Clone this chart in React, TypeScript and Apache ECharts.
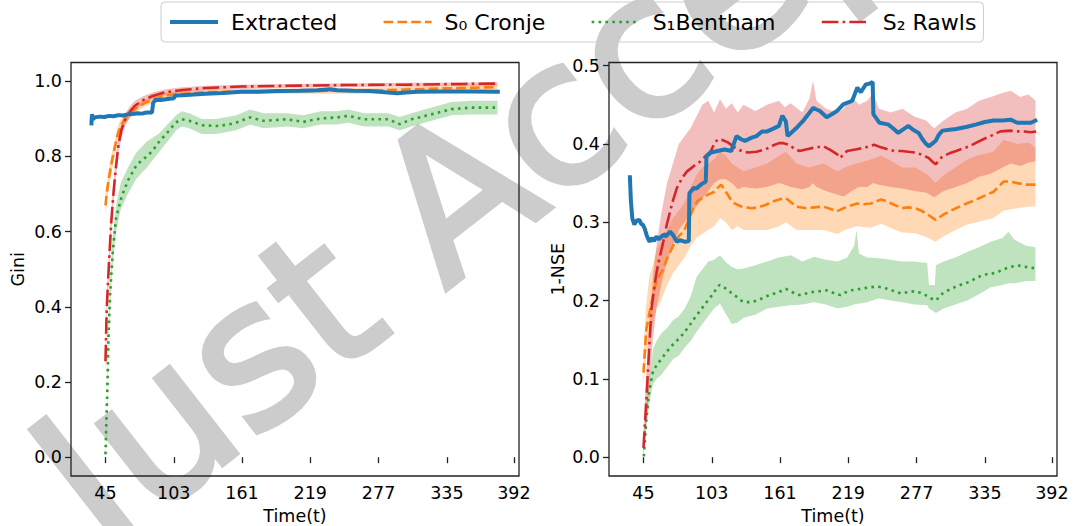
import React, { useEffect, useRef } from 'react';
import * as echarts from 'echarts';

// ---------- tick labels ----------
const timeTicks = [45, 103, 161, 219, 277, 335, 392];
const giniTicks = [0, 0.2, 0.4, 0.6, 0.8, 1.0];
const nseTicks = [0, 0.1, 0.2, 0.3, 0.4, 0.5];

const seriesNames = ['Extracted', 'S₀ Cronje', 'S₁Bentham', 'S₂ Rawls'];

// ---------- Gini (left panel): [t, value] ----------
const giniExtracted = [
  [33, 0.883], [33.5, 0.912], [34.5, 0.9], [36, 0.904], [40, 0.906], [44, 0.905], [48, 0.908], [52, 0.907],
  [56, 0.91], [60, 0.909], [64, 0.912], [68, 0.913], [72, 0.915], [76, 0.914], [80, 0.917], [84.5, 0.917],
  [85.5, 0.943], [87.5, 0.95], [92, 0.95], [98, 0.953], [103, 0.955], [104.5, 0.962], [110, 0.963], [120, 0.965],
  [130, 0.967], [145, 0.969], [160, 0.972], [175, 0.972], [190, 0.974], [210, 0.975], [225, 0.976], [236, 0.979],
  [242, 0.976], [255, 0.975], [270, 0.974], [285, 0.97], [293, 0.968], [300, 0.97], [310, 0.972], [330, 0.973],
  [355, 0.973], [380, 0.972],
];
const giniCronje = [
  [45, 0.67], [46, 0.7], [47.5, 0.735], [50, 0.78], [52, 0.81], [54, 0.84], [56, 0.865], [59, 0.887], [62, 0.9],
  [66, 0.915], [70, 0.926], [77, 0.94], [85, 0.952], [95, 0.962], [110, 0.967], [130, 0.971], [160, 0.973],
  [200, 0.974], [240, 0.975], [270, 0.975], [300, 0.978], [330, 0.981], [360, 0.983], [378, 0.985],
];
const giniBentham = [
  [45, 0.008], [45.6, 0.08], [46.7, 0.195], [47.5, 0.318], [48.9, 0.433], [51.2, 0.548], [54, 0.637], [58.8, 0.694],
  [64.4, 0.738], [71.5, 0.778], [80, 0.8], [85, 0.815], [90, 0.837], [98.8, 0.868], [104.5, 0.89], [110, 0.899],
  [116, 0.895], [127.5, 0.883], [139, 0.881], [148, 0.884], [156, 0.89], [167.5, 0.904], [179, 0.895], [190, 0.897],
  [199, 0.899], [213, 0.892], [228, 0.901], [242, 0.904], [251, 0.908], [265, 0.899], [285, 0.899], [295, 0.886],
  [305, 0.899], [322, 0.912], [339, 0.926], [356, 0.93], [378, 0.93],
];
const giniRawls = [
  [45, 0.255], [46, 0.39], [48, 0.52], [50, 0.63], [52, 0.71], [54, 0.775], [56, 0.83], [58.5, 0.87], [62, 0.9],
  [66, 0.92], [70, 0.935], [77, 0.95], [85, 0.961], [95, 0.97], [110, 0.977], [130, 0.982], [160, 0.986],
  [200, 0.988], [250, 0.99], [300, 0.991], [350, 0.993], [378, 0.994],
];
// bands: [t, lower, upper]
const giniCronjeBand = [
  [45, 0.64, 0.7], [46, 0.675, 0.725], [47.5, 0.71, 0.76], [50, 0.755, 0.805], [52, 0.79, 0.83], [54, 0.82, 0.86],
  [56, 0.845, 0.885], [59, 0.87, 0.905], [62, 0.885, 0.915], [66, 0.903, 0.927], [70, 0.915, 0.937], [77, 0.93, 0.95],
  [85, 0.943, 0.96], [95, 0.954, 0.97], [110, 0.96, 0.974], [130, 0.964, 0.978], [160, 0.966, 0.98], [200, 0.967, 0.981],
  [240, 0.967, 0.983], [270, 0.967, 0.983], [300, 0.97, 0.986], [330, 0.974, 0.988], [360, 0.976, 0.99], [378, 0.978, 0.992],
];
const giniBenthamBand = [
  [45, 0.0, 0.015], [46, 0.06, 0.11], [47.5, 0.29, 0.34], [49, 0.4, 0.46], [51, 0.51, 0.58], [54, 0.6, 0.67],
  [58, 0.66, 0.73], [64, 0.7, 0.77], [71, 0.74, 0.81], [80, 0.77, 0.84], [90, 0.81, 0.86], [99, 0.845, 0.89],
  [105, 0.87, 0.91], [110, 0.88, 0.92], [116, 0.875, 0.915], [127, 0.86, 0.9], [139, 0.86, 0.9], [156, 0.87, 0.91],
  [168, 0.885, 0.925], [179, 0.875, 0.915], [199, 0.88, 0.915], [213, 0.875, 0.91], [228, 0.885, 0.92],
  [242, 0.885, 0.92], [251, 0.89, 0.925], [265, 0.88, 0.915], [285, 0.88, 0.915], [295, 0.87, 0.905],
  [305, 0.88, 0.915], [322, 0.895, 0.93], [339, 0.91, 0.945], [356, 0.912, 0.948], [378, 0.912, 0.948],
];
const giniRawlsBand = [
  [45, 0.22, 0.29], [46, 0.35, 0.43], [48, 0.49, 0.55], [50, 0.6, 0.66], [52, 0.68, 0.74], [54, 0.75, 0.8],
  [56, 0.81, 0.85], [58.5, 0.85, 0.89], [62, 0.885, 0.915], [66, 0.905, 0.935], [70, 0.922, 0.948], [77, 0.94, 0.96],
  [85, 0.952, 0.97], [95, 0.962, 0.978], [110, 0.97, 0.984], [130, 0.976, 0.988], [160, 0.98, 0.991],
  [200, 0.983, 0.993], [250, 0.985, 0.995], [300, 0.986, 0.996], [350, 0.988, 0.997], [378, 0.989, 0.998],
];

// ---------- 1-NSE (right panel) ----------
const nseExtracted = [
  [33.4, 0.36], [34.3, 0.327], [35.5, 0.305], [37.2, 0.297], [39, 0.302], [41.5, 0.303], [43, 0.298], [44.4, 0.297],
  [46, 0.292], [48, 0.282], [50.2, 0.275], [52, 0.28], [54, 0.276], [56, 0.282], [58, 0.278], [61.8, 0.284],
  [64, 0.282], [67.6, 0.288], [70, 0.284], [73.4, 0.275], [76, 0.277], [80.6, 0.275], [83.5, 0.276], [84, 0.337],
  [87.8, 0.344], [90, 0.343], [93.6, 0.348], [97.9, 0.352], [98.5, 0.384], [102.3, 0.389], [108, 0.391],
  [113.9, 0.393], [119.6, 0.391], [124, 0.41], [128, 0.406], [131.2, 0.404], [137, 0.408], [141, 0.41],
  [145.7, 0.416], [150, 0.416], [154.4, 0.419], [160.1, 0.423], [162, 0.432], [163, 0.436], [165.9, 0.429],
  [167.4, 0.41], [171.7, 0.416], [176, 0.422], [180.4, 0.429], [185, 0.438], [189.1, 0.446], [192, 0.444],
  [194.9, 0.442], [200.6, 0.434], [205, 0.438], [209.3, 0.442], [215.1, 0.451], [222.3, 0.455], [226.7, 0.472],
  [229.6, 0.466], [233.9, 0.476], [237, 0.477], [239.7, 0.479], [240.3, 0.438], [245.5, 0.427], [252.7, 0.425],
  [257, 0.42], [261.4, 0.414], [265, 0.418], [270.1, 0.423], [274, 0.418], [278.8, 0.414], [282, 0.406],
  [284.5, 0.401], [287.4, 0.397], [290, 0.4], [293.2, 0.404], [296, 0.412], [299, 0.417], [305, 0.418],
  [310.6, 0.419], [320, 0.422], [327.9, 0.425], [335, 0.428], [342.4, 0.43], [350, 0.43], [356.9, 0.431],
  [362.6, 0.427], [368, 0.427], [374.2, 0.427], [379.4, 0.431],
];
const nseCronje = [
  [45, 0.108], [47.3, 0.162], [49.5, 0.18], [51.7, 0.196], [54, 0.213], [56, 0.225], [58.5, 0.232], [61.8, 0.24],
  [64.5, 0.252], [67.6, 0.262], [70.5, 0.271], [73.4, 0.279], [76, 0.284], [79.1, 0.288], [82, 0.298], [84.9, 0.309],
  [87.8, 0.319], [90.7, 0.327], [95, 0.331], [99.4, 0.335], [105.2, 0.339], [108, 0.344], [111, 0.348],
  [113.5, 0.342], [116.7, 0.335], [119.5, 0.328], [122.5, 0.324], [128.3, 0.32], [137, 0.318], [142, 0.319],
  [148.6, 0.322], [154, 0.326], [160.1, 0.329], [165.9, 0.331], [170, 0.326], [174.6, 0.32], [183.3, 0.318],
  [190, 0.319], [197.8, 0.32], [204, 0.317], [209.3, 0.314], [215.1, 0.318], [220, 0.321], [226.7, 0.324],
  [232, 0.323], [238.3, 0.324], [246.9, 0.329], [251, 0.327], [255.6, 0.324], [260, 0.321], [264.3, 0.318],
  [270, 0.319], [275.9, 0.318], [282, 0.314], [287.4, 0.309], [293.2, 0.303], [296, 0.306], [299, 0.309],
  [305, 0.314], [310.6, 0.318], [318, 0.323], [327.9, 0.329], [335, 0.334], [342.4, 0.339], [347, 0.346],
  [351.1, 0.352], [356, 0.352], [362.6, 0.35], [370, 0.348], [378.6, 0.348],
];
const nseBentham = [
  [45.3, 0.001], [47.3, 0.046], [49.6, 0.081], [51.5, 0.098], [53.1, 0.11], [56, 0.117], [58.9, 0.123], [63, 0.131],
  [67.6, 0.14], [72, 0.147], [76.2, 0.153], [80.5, 0.161], [84.9, 0.17], [89, 0.179], [93.6, 0.188], [98, 0.197],
  [102.3, 0.205], [106, 0.213], [109.5, 0.22], [112, 0.218], [115.3, 0.215], [119.5, 0.21], [124, 0.205],
  [128, 0.2], [131.2, 0.198], [137, 0.198], [143, 0.201], [148.6, 0.205], [154, 0.208], [160.1, 0.211],
  [165.9, 0.215], [171, 0.211], [177.5, 0.207], [183, 0.209], [189.1, 0.211], [195, 0.212], [200.6, 0.213],
  [206, 0.21], [212.2, 0.207], [216, 0.21], [220.9, 0.213], [229.6, 0.215], [237, 0.217], [244, 0.218],
  [252.7, 0.215], [258, 0.212], [264.3, 0.209], [270, 0.211], [275.9, 0.212], [280, 0.21], [284.5, 0.207],
  [289, 0.203], [293.2, 0.2], [296, 0.204], [299, 0.209], [305, 0.214], [310.6, 0.218], [316, 0.221],
  [322.1, 0.224], [328, 0.229], [333.7, 0.233], [340, 0.234], [345.3, 0.236], [351, 0.24], [356.9, 0.243],
  [362.6, 0.245], [370, 0.243], [378.6, 0.241],
];
const nseRawls = [
  [45, 0.012], [47.3, 0.068], [49.6, 0.132], [51.7, 0.188], [54, 0.215], [56, 0.235], [58, 0.25], [61.8, 0.275],
  [64.5, 0.295], [67.6, 0.314], [70.5, 0.33], [73.4, 0.344], [78, 0.357], [82, 0.365], [88, 0.372], [93.6, 0.378],
  [98, 0.385], [102.3, 0.391], [105, 0.4], [108.1, 0.406], [112, 0.405], [116.7, 0.402], [121, 0.397],
  [125.4, 0.393], [130, 0.39], [134.1, 0.389], [141, 0.39], [148.6, 0.393], [155, 0.398], [160.1, 0.401],
  [164, 0.401], [168.8, 0.399], [173, 0.394], [177.5, 0.391], [183, 0.393], [189.1, 0.395], [197.8, 0.397],
  [204, 0.392], [209.3, 0.387], [212.2, 0.382], [215, 0.387], [218, 0.391], [225, 0.393], [232.5, 0.395],
  [241.1, 0.399], [246, 0.396], [252.7, 0.393], [258, 0.391], [264.3, 0.391], [270, 0.39], [275.9, 0.389],
  [282, 0.386], [287.4, 0.382], [290, 0.378], [293.2, 0.374], [296, 0.379], [299, 0.384], [305, 0.388],
  [310.6, 0.391], [316, 0.394], [322.1, 0.397], [327, 0.401], [333.7, 0.406], [341, 0.411], [348.2, 0.416],
  [356.9, 0.417], [362, 0.416], [368.4, 0.416], [374, 0.415], [378.6, 0.416],
];
const nseCronjeBand = [
  [45, 0.09, 0.13], [47, 0.13, 0.19], [50, 0.15, 0.23], [53, 0.17, 0.245], [56, 0.19, 0.265], [60, 0.2, 0.275],
  [65, 0.22, 0.29], [70, 0.235, 0.305], [75, 0.245, 0.315], [80, 0.255, 0.325], [85, 0.27, 0.345], [90, 0.28, 0.36],
  [95, 0.285, 0.37], [100, 0.29, 0.375], [105, 0.295, 0.38], [110, 0.305, 0.39], [115, 0.3, 0.385],
  [120, 0.29, 0.375], [125, 0.295, 0.37], [130, 0.29, 0.365], [140, 0.29, 0.37], [150, 0.29, 0.375],
  [160, 0.295, 0.385], [166, 0.3, 0.39], [175, 0.29, 0.375], [185, 0.29, 0.37], [198, 0.29, 0.375],
  [210, 0.285, 0.365], [216, 0.29, 0.37], [226, 0.295, 0.375], [238, 0.293, 0.38], [247, 0.298, 0.385],
  [256, 0.292, 0.378], [265, 0.287, 0.37], [276, 0.286, 0.37], [287, 0.28, 0.36], [293, 0.275, 0.35],
  [300, 0.282, 0.36], [310, 0.29, 0.37], [320, 0.297, 0.38], [328, 0.3, 0.385], [342, 0.305, 0.39],
  [351, 0.315, 0.405], [363, 0.318, 0.4], [372, 0.32, 0.402], [378, 0.32, 0.395],
];
const nseBenthamBand = [
  [45, 0.0, 0.005], [47, 0.035, 0.06], [50, 0.07, 0.1], [53, 0.093, 0.138], [56, 0.1, 0.148], [60, 0.105, 0.158],
  [65, 0.115, 0.165], [70, 0.125, 0.175], [75, 0.13, 0.18], [80, 0.14, 0.19], [85, 0.148, 0.205], [90, 0.16, 0.23],
  [95, 0.17, 0.24], [100, 0.18, 0.25], [105, 0.19, 0.252], [110, 0.196, 0.258], [115, 0.183, 0.249],
  [120, 0.17, 0.243], [125, 0.172, 0.24], [130, 0.178, 0.241], [140, 0.182, 0.245], [150, 0.19, 0.25],
  [160, 0.192, 0.255], [170, 0.194, 0.258], [180, 0.195, 0.25], [190, 0.198, 0.256], [200, 0.195, 0.252],
  [210, 0.19, 0.25], [218, 0.192, 0.255], [224, 0.195, 0.27], [226, 0.196, 0.29], [228, 0.196, 0.26],
  [235, 0.198, 0.255], [245, 0.203, 0.254], [255, 0.2, 0.252], [265, 0.198, 0.25], [275, 0.195, 0.25],
  [286, 0.194, 0.248], [287.5, 0.19, 0.22], [292.5, 0.185, 0.22], [293.5, 0.184, 0.245], [300, 0.19, 0.25],
  [310, 0.195, 0.255], [320, 0.2, 0.262], [330, 0.208, 0.268], [340, 0.217, 0.275], [350, 0.22, 0.28],
  [355, 0.222, 0.288], [360, 0.222, 0.278], [370, 0.225, 0.27], [378, 0.225, 0.268],
];
const nseRawlsBand = [
  [45, 0.0, 0.03], [47, 0.04, 0.1], [50, 0.09, 0.17], [53, 0.15, 0.23], [56, 0.19, 0.27], [60, 0.22, 0.31],
  [65, 0.25, 0.35], [70, 0.27, 0.375], [75, 0.29, 0.4], [80, 0.3, 0.41], [85, 0.31, 0.42], [90, 0.32, 0.435],
  [95, 0.33, 0.45], [100, 0.34, 0.455], [105, 0.35, 0.44], [110, 0.355, 0.457], [115, 0.355, 0.445],
  [120, 0.35, 0.452], [125, 0.342, 0.44], [130, 0.345, 0.45], [140, 0.343, 0.442], [150, 0.345, 0.45],
  [160, 0.35, 0.455], [165, 0.348, 0.447], [170, 0.345, 0.452], [180, 0.342, 0.44], [186, 0.345, 0.458],
  [189, 0.35, 0.481], [192, 0.345, 0.455], [200, 0.34, 0.445], [210, 0.335, 0.44], [215, 0.333, 0.445],
  [222, 0.34, 0.46], [228, 0.345, 0.45], [235, 0.345, 0.455], [240, 0.35, 0.465], [245, 0.348, 0.445],
  [255, 0.345, 0.44], [265, 0.343, 0.445], [275, 0.34, 0.435], [285, 0.338, 0.43], [292, 0.332, 0.42],
  [300, 0.34, 0.43], [310, 0.345, 0.44], [320, 0.35, 0.445], [330, 0.358, 0.455], [340, 0.362, 0.46],
  [350, 0.37, 0.465], [357, 0.375, 0.468], [365, 0.372, 0.46], [372, 0.376, 0.463], [378, 0.378, 0.455],
];

// ---------- styles ----------
const BLUE = '#1f77b4';
const ORANGE = '#ff7f0e';
const GREEN = '#2ca02c';
const RED = '#d62728';
const FONT = 'DejaVu Sans';

function bandSeries(name: string, pts: number[][], fill: string, idx: number) {
  return {
    type: 'custom',
    name,
    xAxisIndex: idx,
    yAxisIndex: idx,
    z: 1,
    silent: true,
    data: [[pts[0][0], pts[0][1]]],
    encode: { x: 0, y: 1 },
    renderItem: (_params: any, api: any) => {
      const upper = pts.map((p) => api.coord([p[0], p[2]]));
      const lower = pts.slice().reverse().map((p) => api.coord([p[0], p[1]]));
      return {
        type: 'polygon',
        shape: { points: upper.concat(lower) },
        style: { fill },
        silent: true,
      };
    },
  };
}

function lineSeries(name: string, data: number[][], color: string, width: number, dash: any, idx: number, z: number) {
  return {
    type: 'line',
    name,
    data,
    xAxisIndex: idx,
    yAxisIndex: idx,
    z,
    symbol: 'none',
    showSymbol: false,
    lineStyle: { color, width, type: dash, cap: 'butt' },
    itemStyle: { color },
  };
}

const DASHED = [9.6, 4.2];
const DOTTED = [2.6, 4.3];
const DASHDOT = [16.6, 4.2, 2.6, 4.2];

function xAxisOpt(idx: number) {
  return {
    type: 'value',
    gridIndex: idx,
    min: 15.7,
    max: 396.3,
    name: 'Time(t)',
    nameLocation: 'middle',
    nameGap: 29,
    nameTextStyle: { fontSize: 17.5, color: '#000', fontFamily: FONT },
    axisLine: { show: false },
    splitLine: { show: false },
    axisTick: { show: true, length: 6, lineStyle: { color: '#222', width: 1.3 }, customValues: timeTicks },
    axisLabel: {
      customValues: timeTicks,
      formatter: (v: number) => String(v),
      fontSize: 17.5,
      color: '#000',
      fontFamily: FONT,
      margin: 8,
    },
  };
}

function yAxisOpt(idx: number, min: number, max: number, ticks: number[], name: string, gap: number) {
  return {
    type: 'value',
    gridIndex: idx,
    min,
    max,
    name,
    nameLocation: 'middle',
    nameGap: gap,
    nameRotate: 90,
    nameTextStyle: { fontSize: 17.5, color: '#000', fontFamily: FONT },
    axisLine: { show: false },
    splitLine: { show: false },
    axisTick: { show: true, length: 6, lineStyle: { color: '#222', width: 1.3 }, customValues: ticks },
    axisLabel: {
      customValues: ticks,
      formatter: (v: number) => v.toFixed(1),
      fontSize: 17.5,
      color: '#000',
      fontFamily: FONT,
      margin: 9,
    },
  };
}

const option: any = {
  animation: false,
  backgroundColor: '#fff',
  textStyle: { fontFamily: FONT },
  graphic: {
    elements: [
      {
        type: 'text',
        z: -10,
        silent: true,
        x: 62,
        y: 502,
        rotation: (38 * Math.PI) / 180,
        style: {
          text: 'Just Accepted',
          fontSize: 200,
          fontFamily: 'DejaVu Sans',
          fill: '#cccccc',
          stroke: '#cccccc',
          lineWidth: 5,
          align: 'left',
          verticalAlign: 'middle',
          textAlign: 'left',
          textVerticalAlign: 'middle',
        },
      },
    ],
  },
  legend: {
    left: 161,
    top: 2,
    padding: [9, 7, 9, 7],
    itemWidth: 48,
    itemHeight: 14,
    itemGap: 45,
    backgroundColor: 'rgba(255,255,255,0)',
    borderColor: '#cccccc',
    borderWidth: 1,
    borderRadius: 4,
    itemStyle: { opacity: 0 },
    textStyle: { fontSize: 22, fontFamily: FONT, color: '#000', padding: [0, 0, 0, 8] },
    data: [
      { name: seriesNames[0], lineStyle: { width: 4 } },
      { name: seriesNames[1], lineStyle: { width: 2.6 } },
      { name: seriesNames[2], lineStyle: { width: 2.6 } },
      { name: seriesNames[3], lineStyle: { width: 2.6 } },
    ],
  },
  grid: [
    { left: 71, top: 62.5, width: 448, height: 413.5, show: true, borderColor: '#222', borderWidth: 1.3, backgroundColor: 'transparent', containLabel: false, outerBoundsMode: 'none' },
    { left: 609, top: 62.5, width: 448, height: 413.5, show: true, borderColor: '#222', borderWidth: 1.3, backgroundColor: 'transparent', containLabel: false, outerBoundsMode: 'none' },
  ],
  xAxis: [xAxisOpt(0), xAxisOpt(1)],
  yAxis: [
    yAxisOpt(0, -0.05, 1.05, giniTicks, 'Gini', 44),
    yAxisOpt(1, -0.024, 0.504, nseTicks, '1-NSE', 42),
  ],
  series: [
    bandSeries('band-gini-cronje', giniCronjeBand, 'rgba(255,127,14,0.3)', 0),
    bandSeries('band-gini-bentham', giniBenthamBand, 'rgba(44,160,44,0.3)', 0),
    bandSeries('band-gini-rawls', giniRawlsBand, 'rgba(214,39,40,0.3)', 0),
    lineSeries(seriesNames[1], giniCronje, ORANGE, 2.6, DASHED, 0, 3),
    lineSeries(seriesNames[2], giniBentham, GREEN, 2.6, DOTTED, 0, 3),
    lineSeries(seriesNames[3], giniRawls, RED, 2.6, DASHDOT, 0, 4),
    lineSeries(seriesNames[0], giniExtracted, BLUE, 4, 'solid', 0, 5),

    bandSeries('band-nse-cronje', nseCronjeBand, 'rgba(255,127,14,0.3)', 1),
    bandSeries('band-nse-bentham', nseBenthamBand, 'rgba(44,160,44,0.3)', 1),
    bandSeries('band-nse-rawls', nseRawlsBand, 'rgba(214,39,40,0.3)', 1),
    lineSeries(seriesNames[1], nseCronje, ORANGE, 2.6, DASHED, 1, 3),
    lineSeries(seriesNames[2], nseBentham, GREEN, 2.6, DOTTED, 1, 3),
    lineSeries(seriesNames[3], nseRawls, RED, 2.6, DASHDOT, 1, 4),
    lineSeries(seriesNames[0], nseExtracted, BLUE, 4, 'solid', 1, 5),
  ],
};

export default function App() {
  const ref = useRef<HTMLDivElement>(null);
  useEffect(() => {
    if (!ref.current) return;
    const chart = echarts.init(ref.current, null, { renderer: 'svg' });
    chart.setOption(option);
    return () => chart.dispose();
  }, []);
  return (
    <div
      ref={ref}
      style={{ position: 'fixed', left: 0, top: 0, width: 1077, height: 526, background: '#fff' }}
    />
  );
}
